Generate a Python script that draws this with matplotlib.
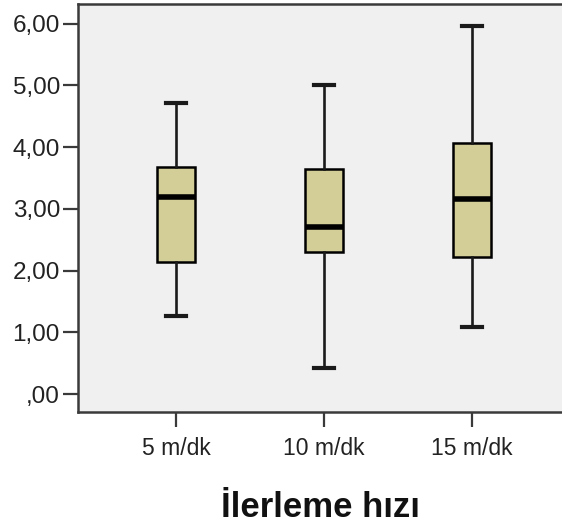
import matplotlib
matplotlib.use('Agg')
import matplotlib.pyplot as plt

plt.rcParams['font.family'] = ['Liberation Sans', 'DejaVu Sans']

# box statistics
groups = ['5 m/dk', '10 m/dk', '15 m/dk']
whislo = [1.26, 0.43, 1.09]
q1 = [2.14, 2.31, 2.22]
med = [3.20, 2.71, 3.16]
q3 = [3.68, 3.65, 4.07]
whishi = [4.71, 5.00, 5.96]
yticks = [0, 1, 2, 3, 4, 5, 6]
ytick_labels = [',00', '1,00', '2,00', '3,00', '4,00', '5,00', '6,00']
xlabel = 'İlerleme hızı'

BOX_FILL = '#D3CE97'
PANEL = '#F0F0F0'
SPINE = '#3A3A3A'

fig = plt.figure(figsize=(5.62, 5.24), dpi=100)
ax = fig.add_axes([78 / 562, 112 / 524, 1 - 78 / 562, 408 / 524])
ax.set_facecolor(PANEL)

stats = [{'label': g, 'whislo': lo, 'q1': a, 'med': m, 'q3': b, 'whishi': hi, 'fliers': []}
         for g, lo, a, m, b, hi in zip(groups, whislo, q1, med, q3, whishi)]
ax.bxp(stats, positions=[1, 2, 3], widths=0.26, capwidths=0.135, patch_artist=True,
       showfliers=False,
       boxprops=dict(facecolor=BOX_FILL, edgecolor='black', linewidth=1.8),
       medianprops=dict(color='black', linewidth=4.0),
       whiskerprops=dict(color='#1a1a1a', linewidth=1.9),
       capprops=dict(color='#1a1a1a', linewidth=3.0))

ax.set_xlim(0.338, 3.61)
ax.set_ylim(-0.29, 6.32)
ax.set_yticks(yticks)
ax.set_yticklabels(ytick_labels, fontsize=17.5, color='#222222')
ax.set_xticks([1, 2, 3])
ax.set_xticklabels(groups, fontsize=16.5, color='#222222')
ax.tick_params(axis='both', length=11, width=1.6, color=SPINE)
ax.tick_params(axis='y', pad=2)
ax.tick_params(axis='x', pad=7)

for side in ['left', 'top', 'bottom']:
    ax.spines[side].set_color(SPINE)
    ax.spines[side].set_linewidth(1.8)
ax.spines['right'].set_visible(False)

ax.set_xlabel(xlabel, fontsize=25, fontweight='bold', labelpad=22, color='#111111')

fig.savefig('out.png', dpi=100, facecolor='white')
plt.close(fig)
